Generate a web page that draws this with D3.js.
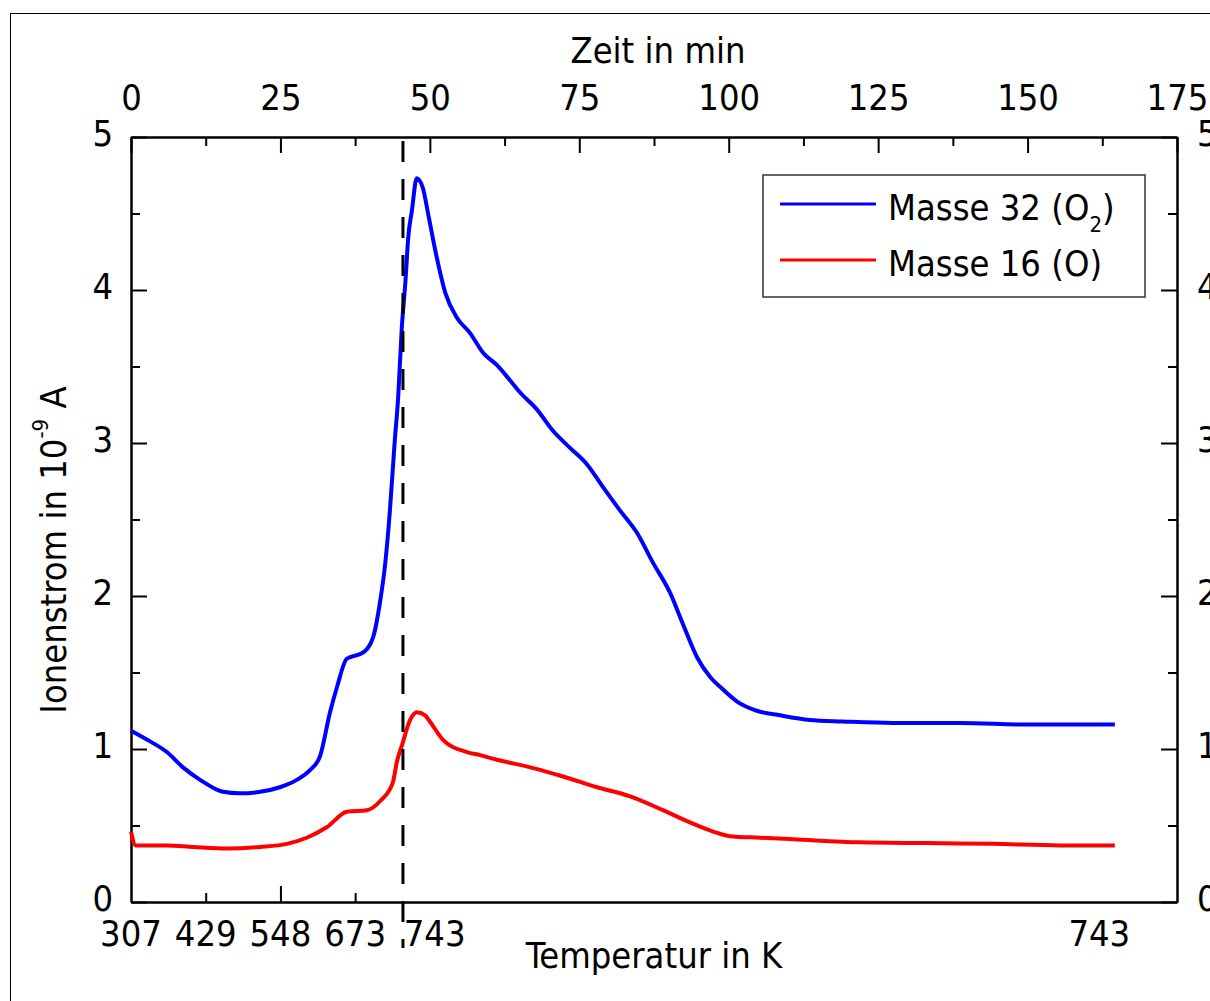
<!DOCTYPE html>
<html>
<head>
<meta charset="utf-8">
<script src="https://cdn.jsdelivr.net/npm/d3@7"></script>
<style>
  body { margin: 0; background: #fff; }
  text { font-family: "DejaVu Sans Condensed", "DejaVu Sans", sans-serif; fill: #000; }
</style>
</head>
<body>
<svg id="chart" width="1210" height="1001"></svg>
<script>
// time in min (top axis), ion current in 1e-9 A
var o2Time = [0, 3.2, 6.0, 8.7, 11.5, 15.4, 18.2, 21.6, 24.9, 27.8, 29.9, 31.6, 33.3, 34.5, 36.1, 38.8, 40.5,
  41.7, 42.5, 43.3, 44.1, 44.7, 45.3, 45.9, 46.4, 47.0, 47.8, 48.8, 49.8, 50.9, 52.6, 54.5, 56.7, 58.9,
  61.2, 63.4, 65.1, 67.9, 70.6, 73.4, 76.3, 79.0, 81.8, 84.7, 87.3, 90.2, 92.3, 94.7, 96.9, 99.0, 101.4,
  104.7, 108.6, 113.6, 119.1, 127.5, 138.7, 149.9, 158.3, 164.6];
var o2Value = [1.12, 1.05, 0.98, 0.88, 0.80, 0.72, 0.71, 0.72, 0.75, 0.80, 0.86, 0.95, 1.24, 1.41, 1.59, 1.63, 1.73,
  1.97, 2.20, 2.55, 3.00, 3.30, 3.75, 4.05, 4.35, 4.52, 4.73, 4.67, 4.48, 4.26, 3.98, 3.82, 3.72, 3.59,
  3.51, 3.41, 3.33, 3.22, 3.08, 2.97, 2.86, 2.71, 2.56, 2.41, 2.22, 2.02, 1.82, 1.60, 1.47, 1.39, 1.31,
  1.25, 1.22, 1.19, 1.18, 1.17, 1.17, 1.16, 1.16, 1.16];

var oTime = [0, 0.8, 6.0, 10.4, 16.1, 21.6, 26.1, 29.4, 32.8, 36.1, 39.5, 41.7, 43.8, 44.5, 45.3, 46.7, 47.8,
  49.2, 50.0, 52.2, 56.2, 58.4, 61.2, 66.8, 72.3, 78.0, 83.5, 89.0, 93.5, 97.4, 100.2, 105.2, 110.8,
  122.0, 133.2, 144.2, 155.4, 164.6];
var oValue = [0.46, 0.37, 0.37, 0.36, 0.35, 0.36, 0.38, 0.42, 0.49, 0.59, 0.60, 0.66, 0.78, 0.92, 1.02, 1.19, 1.24,
  1.22, 1.18, 1.06, 0.98, 0.96, 0.93, 0.88, 0.82, 0.75, 0.69, 0.60, 0.52, 0.46, 0.43, 0.42, 0.41,
  0.39, 0.385, 0.38, 0.37, 0.37];

var timeTicks = [0, 25, 50, 75, 100, 125, 150, 175];
var yTicks = [0, 1, 2, 3, 4, 5];
var tempLabels = ["307", "429", "548", "673", "743", "743"];
var tempAt = [0, 12.5, 25, 37.5, 50.8, 162];
var markerTime = 45.5;
var seriesNames = ["Masse 32 (O", "Masse 16 (O)"];
var seriesColors = ["#0000ff", "#ff0000"];

var svg = d3.select("#chart");
var m = { left: 131, top: 137, right: 1177, bottom: 902 };
var fs = 36;

var x = d3.scaleLinear().domain([0, 175]).range([m.left, m.right]);
var y = d3.scaleLinear().domain([0, 5]).range([m.bottom, m.top]);

// outer frame
svg.append("rect").attr("x", 10.5).attr("y", 13.5).attr("width", 1400).attr("height", 1200)
  .attr("fill", "none").attr("stroke", "#000").attr("stroke-width", 1);

function styleAxis(g) {
  g.selectAll("path, line").attr("stroke", "#000").attr("stroke-width", 2);
  g.selectAll("text").attr("font-size", fs).attr("font-family", null);
  g.attr("font-family", null);
}

function minors(ticks) {
  return ticks.slice(0, -1).map(function(d, i) { return (d + ticks[i + 1]) / 2; });
}

// left
svg.append("g").attr("transform", "translate(" + m.left + ",0)")
  .call(d3.axisLeft(y).tickValues(yTicks).tickSize(-16).tickSizeOuter(0).tickPadding(18).tickFormat(d3.format("d")))
  .call(styleAxis)
  .selectAll("text").attr("dy", "0.24em");
svg.append("g").attr("transform", "translate(" + m.left + ",0)")
  .call(d3.axisLeft(y).tickValues(minors(yTicks)).tickSize(-9).tickSizeOuter(0).tickFormat(""))
  .call(styleAxis);

// right
svg.append("g").attr("transform", "translate(" + m.right + ",0)")
  .call(d3.axisRight(y).tickValues(yTicks).tickSize(-16).tickSizeOuter(0).tickPadding(20).tickFormat(d3.format("d")))
  .call(styleAxis)
  .selectAll("text").attr("dy", "0.24em");
svg.append("g").attr("transform", "translate(" + m.right + ",0)")
  .call(d3.axisRight(y).tickValues(minors(yTicks)).tickSize(-9).tickSizeOuter(0).tickFormat(""))
  .call(styleAxis);

// top (time)
svg.append("g").attr("transform", "translate(0," + m.top + ")")
  .call(d3.axisTop(x).tickValues(timeTicks).tickSize(-16).tickSizeOuter(0).tickPadding(27))
  .call(styleAxis);
svg.append("g").attr("transform", "translate(0," + m.top + ")")
  .call(d3.axisTop(x).tickValues(minors(timeTicks)).tickSize(-9).tickSizeOuter(0).tickFormat(""))
  .call(styleAxis);

// bottom (temperature)
svg.append("g").attr("transform", "translate(0," + m.bottom + ")")
  .call(d3.axisBottom(x).tickValues([25]).tickSize(-16).tickSizeOuter(0).tickFormat(""))
  .call(styleAxis);
svg.append("g").attr("transform", "translate(0," + m.bottom + ")")
  .call(d3.axisBottom(x).tickValues([12.5, 37.5]).tickSize(-9).tickSizeOuter(0).tickFormat(""))
  .call(styleAxis);

svg.selectAll(".templabel")
  .data(tempLabels)
  .enter().append("text")
    .attr("class", "templabel")
    .attr("x", function(d, i) { return x(tempAt[i]); })
    .attr("y", m.bottom + 44)
    .attr("text-anchor", "middle")
    .attr("font-size", fs)
    .text(function(d) { return d; });

// curves
var line = d3.line()
  .x(function(d) { return x(d[0]); })
  .y(function(d) { return y(d[1]); })
  .curve(d3.curveMonotoneX);

svg.append("path")
  .datum(o2Time.map(function(t, i) { return [t, o2Value[i]]; }))
  .attr("d", line).attr("fill", "none")
  .attr("stroke", seriesColors[0]).attr("stroke-width", 4);

svg.append("path")
  .datum(oTime.map(function(t, i) { return [t, oValue[i]]; }))
  .attr("d", line).attr("fill", "none")
  .attr("stroke", seriesColors[1]).attr("stroke-width", 4);

// dashed marker
svg.append("line")
  .attr("x1", x(markerTime)).attr("x2", x(markerTime))
  .attr("y1", m.top).attr("y2", m.bottom + 46)
  .attr("stroke", "#000").attr("stroke-width", 3)
  .attr("stroke-dasharray", "21,17").attr("stroke-dashoffset", -4);

// axis titles
svg.append("text").attr("x", 658).attr("y", 63).attr("text-anchor", "middle")
  .attr("font-size", fs).text("Zeit in min");
svg.append("text").attr("x", 654).attr("y", 968).attr("text-anchor", "middle")
  .attr("font-size", fs).text("Temperatur in K");

var yt = svg.append("text")
  .attr("transform", "translate(66,550) rotate(-90)")
  .attr("text-anchor", "middle")
  .attr("font-size", fs);
yt.append("tspan").text("Ionenstrom in 10");
yt.append("tspan").attr("font-size", 22).attr("dy", -18).text("-9");
yt.append("tspan").attr("dy", 18).text(" A");

// legend
var lg = svg.append("g");
lg.append("rect").attr("x", 763).attr("y", 175).attr("width", 382).attr("height", 122)
  .attr("fill", "#fff").attr("stroke", "#333").attr("stroke-width", 1.5);

var items = lg.selectAll(".item")
  .data(seriesNames)
  .enter().append("g")
    .attr("class", "item")
    .attr("transform", function(d, i) { return "translate(0," + (i * 56) + ")"; });

items.append("line")
  .attr("x1", 780).attr("x2", 876).attr("y1", 204).attr("y2", 204)
  .attr("stroke", function(d, i) { return seriesColors[i]; })
  .attr("stroke-width", 3);

var lt = items.append("text")
  .attr("x", 888).attr("y", 220)
  .attr("font-size", fs)
  .text(function(d) { return d; });

lt.filter(function(d, i) { return i === 0; }).each(function() {
  var t = d3.select(this);
  t.append("tspan").attr("font-size", 22).attr("dy", 12).text("2");
  t.append("tspan").attr("dy", -12).text(")");
});
</script>
</body>
</html>
